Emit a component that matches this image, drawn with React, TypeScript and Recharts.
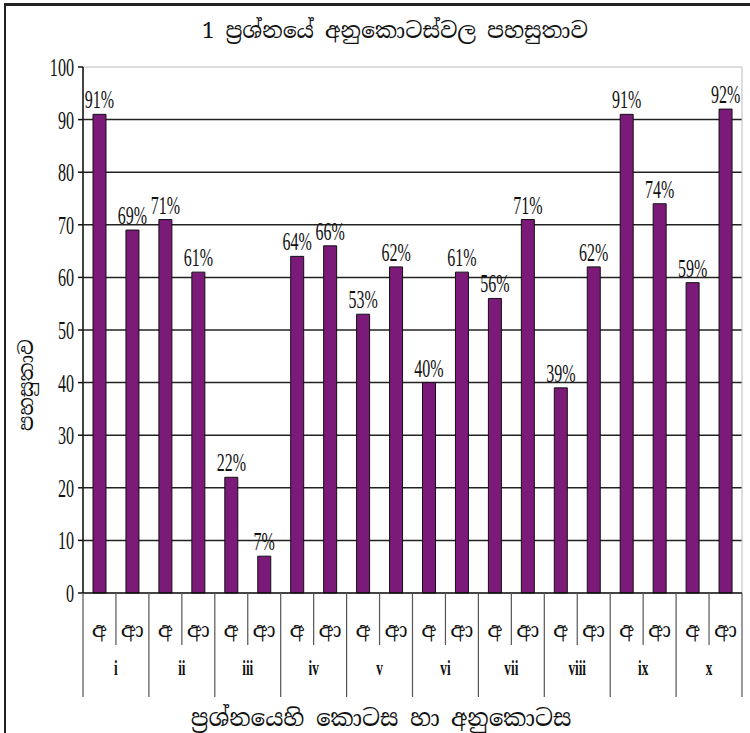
import React from 'react';
import { BarChart, Bar, XAxis, YAxis, CartesianGrid, LabelList, ReferenceArea } from 'recharts';

const groups = ['i', 'ii', 'iii', 'iv', 'v', 'vi', 'vii', 'viii', 'ix', 'x'];
const subParts = ['අ', 'ආ'];
const values = [91, 69, 71, 61, 22, 7, 64, 66, 53, 62, 40, 61, 56, 71, 39, 62, 91, 74, 59, 92];
const yTicks = [0, 10, 20, 30, 40, 50, 60, 70, 80, 90, 100];
const gridValues = [10, 20, 30, 40, 50, 60, 70, 80, 90];

const title = '1 ප්‍රශ්නයේ අනුකොටස්වල පහසුතාව';
const xTitle = 'ප්‍රශ්නයෙහි කොටස හා අනුකොටස';
const yTitle = 'පහසුතාව';

const data = values.map((v, i) => ({
  key: `${groups[Math.floor(i / 2)]}-${subParts[i % 2]}`,
  sub: subParts[i % 2],
  group: groups[Math.floor(i / 2)],
  value: v,
}));

const SIN = "'Noto Serif Sinhala', 'Noto Sans Sinhala', 'Iskoola Pota', serif";
const SERIF = "'Liberation Serif', 'Times New Roman', serif";

const CondText = ({ x, y, children, size = 24, anchor = 'middle', weight = 'normal', sx = 0.66 }: any) => (
  <text
    x={x / sx}
    y={y}
    transform={`scale(${sx},1)`}
    textAnchor={anchor}
    fontFamily={SERIF}
    fontSize={size}
    fontWeight={weight}
    fill="#111"
  >
    {children}
  </text>
);

const YTick = (props: any) => {
  const { x, y, payload } = props;
  return <CondText x={x} y={y + 9} anchor="end" size={26} sx={0.62}>{payload.value}</CondText>;
};

const XTick = (props: any) => {
  const { x, y, payload } = props;
  const i = payload.index;
  const half = payload.offset || 16.5;
  const d = data[i];
  const els: any[] = [];
  els.push(
    <text key="s" x={x} y={y + 44} textAnchor="middle" fontFamily={SIN} fontSize={21} fill="#111">
      {d.sub}
    </text>
  );
  if (i % 2 === 0) {
    els.push(<line key="sl" x1={x + half} x2={x + half} y1={y} y2={y + 52} stroke="#555" strokeWidth={1.2} />);
    els.push(<line key="gl" x1={x - half} x2={x - half} y1={y} y2={y + 104} stroke="#555" strokeWidth={1.2} />);
    els.push(
      <CondText key="g" x={x + half} y={y + 82} size={20} weight="bold">
        {d.group}
      </CondText>
    );
  } else if (i === data.length - 1) {
    els.push(<line key="gr" x1={x + half} x2={x + half} y1={y} y2={y + 104} stroke="#555" strokeWidth={1.2} />);
  }
  return <g>{els}</g>;
};

const BarLabel = (props: any) => {
  const { x, y, width, value } = props;
  return (
    <CondText x={x + width / 2} y={y - 6} size={25} sx={0.64}>
      {`${value}%`}
    </CondText>
  );
};

export default function App() {
  return (
    <div style={{ position: 'absolute', left: 0, top: 0, width: 750, height: 733, background: '#fff', overflow: 'hidden' }}>
      <div
        style={{
          position: 'absolute',
          left: 4,
          top: 3,
          width: 800,
          height: 800,
          borderLeft: '2px solid #222',
          borderTop: '3px solid #222',
        }}
      />
      <div style={{ position: 'absolute', left: 0, top: 0 }}>
        <BarChart
          width={750}
          height={733}
          data={data}
          margin={{ top: 67, right: 8, bottom: 30, left: 23 }}
          barCategoryGap={0}
        >
          <CartesianGrid vertical={false} horizontalValues={gridValues} stroke="#222" strokeWidth={1.5} />
          <ReferenceArea y1={0} y2={100} fill="none" stroke="#bbb" strokeWidth={1} ifOverflow="visible" />
          <XAxis
            dataKey="key"
            interval={0}
            tickLine={false}
            tickSize={0}
            tickMargin={0}
            height={110}
            axisLine={{ stroke: '#111', strokeWidth: 1.5 }}
            tick={<XTick />}
          />
          <YAxis
            domain={[0, 100]}
            ticks={yTicks}
            width={60}
            tickSize={5}
            tickMargin={4}
            axisLine={{ stroke: '#111', strokeWidth: 1.5 }}
            tickLine={{ stroke: '#111', strokeWidth: 1.5 }}
            tick={<YTick />}
            interval={0}
          />
          <Bar dataKey="value" fill="#7b1a78" stroke="#111" strokeWidth={1} barSize={13} isAnimationActive={false}>
            <LabelList dataKey="value" content={<BarLabel />} />
          </Bar>
        </BarChart>
      </div>
      <svg style={{ position: 'absolute', left: 0, top: 0 }} width={750} height={733}>
        <text x={395} y={38} textAnchor="middle" fontFamily={SIN} fontSize={22} fill="#111">
          {title}
        </text>
        <text x={381} y={726} textAnchor="middle" fontFamily={SIN} fontSize={23} fill="#111">
          {xTitle}
        </text>
        <text
          x={0}
          y={0}
          transform="translate(33,385) rotate(-90)"
          textAnchor="middle"
          fontFamily={SIN}
          fontSize={20}
          fill="#111"
        >
          {yTitle}
        </text>
      </svg>
    </div>
  );
}
